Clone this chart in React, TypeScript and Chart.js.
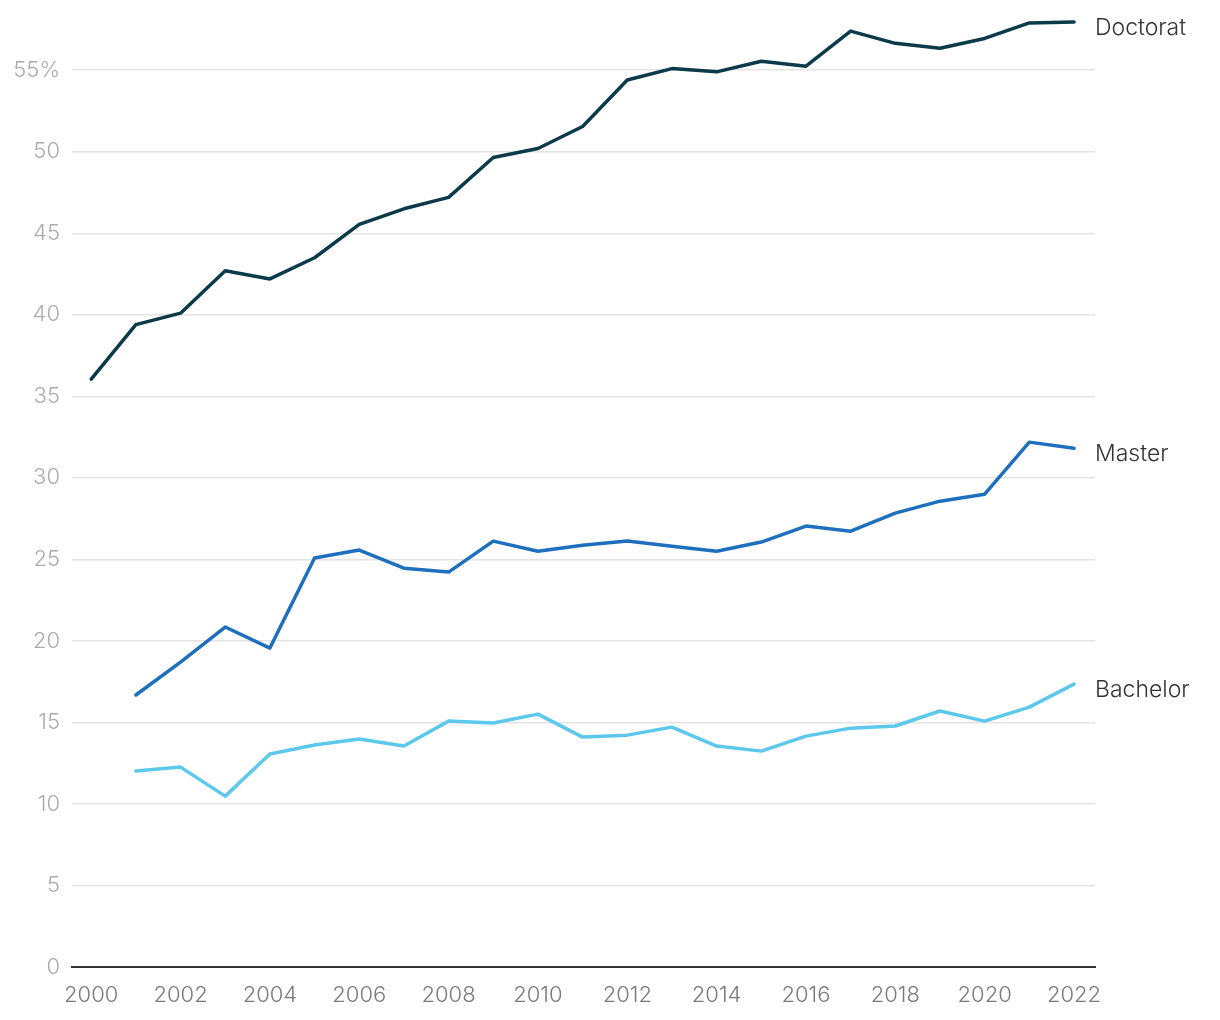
import React, { useEffect, useRef } from "react";
import { Chart, registerables } from "chart.js";

Chart.register(...registerables);

const years = [2000, 2001, 2002, 2003, 2004, 2005, 2006, 2007, 2008, 2009, 2010, 2011, 2012, 2013, 2014, 2015, 2016, 2017, 2018, 2019, 2020, 2021, 2022];
const doctorat = [36.05, 39.4, 40.1, 42.7, 42.2, 43.5, 45.55, 46.5, 47.2, 49.65, 50.2, 51.55, 54.4, 55.1, 54.9, 55.55, 55.25, 57.4, 56.65, 56.35, 56.95, 57.9, 57.95];
const master = [null, 16.68, 18.7, 20.85, 19.56, 25.08, 25.57, 24.46, 24.22, 26.12, 25.5, 25.87, 26.12, 25.81, 25.5, 26.06, 27.04, 26.73, 27.84, 28.57, 29.0, 32.19, 31.82];
const bachelor = [null, 12.02, 12.26, 10.48, 13.06, 13.61, 13.98, 13.55, 15.08, 14.96, 15.51, 14.1, 14.22, 14.71, 13.55, 13.24, 14.16, 14.65, 14.78, 15.7, 15.08, 15.94, 17.35];
const seriesNames = ["Doctorat", "Master", "Bachelor"];
const seriesColors = ["#0b3a4a", "#1f6fbf", "#5bc8ec"];
const xTickYears = [2000, 2002, 2004, 2006, 2008, 2010, 2012, 2014, 2016, 2018, 2020, 2022];
const yTickValues = [0, 5, 10, 15, 20, 25, 30, 35, 40, 45, 50, 55];

const FONT = "Inter, 'Noto Sans', sans-serif";

const endLabels = {
  id: "endLabels",
  afterDatasetsDraw(chart: any) {
    const ctx = chart.ctx;
    ctx.save();
    ctx.font = `300 23px ${FONT}`;
    ctx.fillStyle = "#333333";
    ctx.textAlign = "left";
    ctx.textBaseline = "middle";
    chart.data.datasets.forEach((ds: any, i: number) => {
      const meta = chart.getDatasetMeta(i);
      const pts = meta.data;
      const last = pts[pts.length - 1];
      if (!last) return;
      ctx.fillText(ds.label, chart.chartArea.right, last.y + 6);
    });
    ctx.restore();
  },
};

export default function App() {
  const ref = useRef<HTMLCanvasElement | null>(null);
  useEffect(() => {
    if (!ref.current) return;
    const all = [doctorat, master, bachelor];
    const chart = new Chart(ref.current, {
      type: "line",
      data: {
        datasets: all.map((arr, i) => ({
          label: seriesNames[i],
          data: years.map((y, j) => ({ x: y, y: arr[j] })).filter((p) => p.y !== null) as any,
          borderColor: seriesColors[i],
          backgroundColor: seriesColors[i],
          borderWidth: 3.5,
          pointRadius: 0,
          tension: 0,
          borderCapStyle: "round",
          borderJoinStyle: "round",
          clip: false as any,
        })),
      },
      options: {
        animation: false,
        responsive: false,
        maintainAspectRatio: false,
        layout: { padding: { top: 5, right: 125, left: 0, bottom: 0 } },
        plugins: { legend: { display: false }, tooltip: { enabled: false } },
        scales: {
          x: {
            type: "linear",
            min: 1999.57,
            max: 2022.47,
            afterBuildTicks: (scale: any) => {
              scale.ticks = xTickYears.map((v) => ({ value: v }));
            },
            afterFit: (scale: any) => {
              scale.height = 53;
              scale.paddingLeft = 0;
              scale.paddingRight = 0;
            },
            ticks: {
              padding: 15,
              color: "#7a7a7a",
              font: { family: FONT, size: 22, weight: "300" as any },
              callback: (v: any) => String(v),
              maxRotation: 0,
              autoSkip: false,
            },
            grid: { display: false, drawTicks: false },
            border: { display: true, color: "#333333", width: 2 },
          },
          y: {
            min: 0,
            max: 59,
            afterBuildTicks: (scale: any) => {
              scale.ticks = yTickValues.map((v) => ({ value: v }));
            },
            afterFit: (scale: any) => {
              scale.width = 72;
              scale.paddingTop = 0;
              scale.paddingBottom = 0;
            },
            ticks: {
              padding: 12,
              color: "#ababab",
              font: { family: FONT, size: 22, weight: "300" as any },
              callback: (v: any) => (v === 55 ? "55%" : String(v)),
            },
            grid: {
              drawTicks: false,
              color: (c: any) => (c.tick && c.tick.value === 0 ? "rgba(0,0,0,0)" : "#e4e4e4"),
              lineWidth: 1.5,
            },
            border: { display: false },
          },
        },
      },
      plugins: [endLabels],
    });
    return () => chart.destroy();
  }, []);
  return (
    <div style={{ position: "absolute", left: 0, top: 0, width: 1220, height: 1020, background: "#fff" }}>
      <canvas ref={ref} width={1220} height={1020} style={{ width: 1220, height: 1020 }} />
    </div>
  );
}
